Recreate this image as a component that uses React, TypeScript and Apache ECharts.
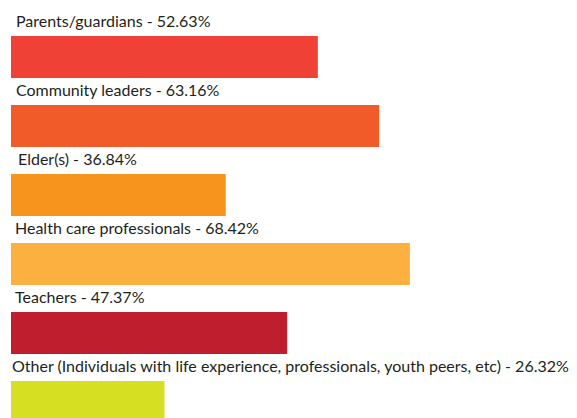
import React, { useEffect, useRef } from "react";
import * as echarts from "echarts";

const categories = [
  "Parents/guardians",
  "Community leaders",
  "Elder(s)",
  "Health care professionals",
  "Teachers",
  "Other (Individuals with life experience, professionals, youth peers, etc)",
];
const values = [52.63, 63.16, 36.84, 68.42, 47.37, 26.32];

const barColors = ["#EF4136", "#F15A29", "#F7941D", "#FBB040", "#BE1E2D", "#D7DF23"];
const labelShiftX = [5, 5, 7, 4, 4, 1];

export default function App() {
  const ref = useRef<HTMLDivElement>(null);
  useEffect(() => {
    if (!ref.current) return;
    const chart = echarts.init(ref.current, null, { renderer: "svg" });
    chart.setOption({
      animation: false,
      grid: {
        left: 11,
        top: 22.5,
        width: 583,
        height: 414,
        containLabel: false,
        outerBoundsMode: "none",
      },
      xAxis: { type: "value", min: 0, max: 100, show: false },
      yAxis: {
        type: "category",
        data: categories,
        inverse: true,
        show: false,
      },
      series: [
        {
          type: "bar",
          barWidth: 42,
          data: values.map((v, i) => ({
            value: v,
            itemStyle: { color: barColors[i] },
            label: {
              show: true,
              position: [labelShiftX[i], -16],
              verticalAlign: "middle",
              align: "left",
              formatter: () => `${categories[i]} - ${v.toFixed(2)}%`,
            },
          })),
          label: {
            color: "#231F20",
            fontFamily: "Lato",
            fontSize: 16,
          },
        },
      ],
    });
    return () => chart.dispose();
  }, []);
  return (
    <div
      ref={ref}
      style={{ position: "absolute", left: 0, top: 0, width: 577, height: 418 }}
    />
  );
}
